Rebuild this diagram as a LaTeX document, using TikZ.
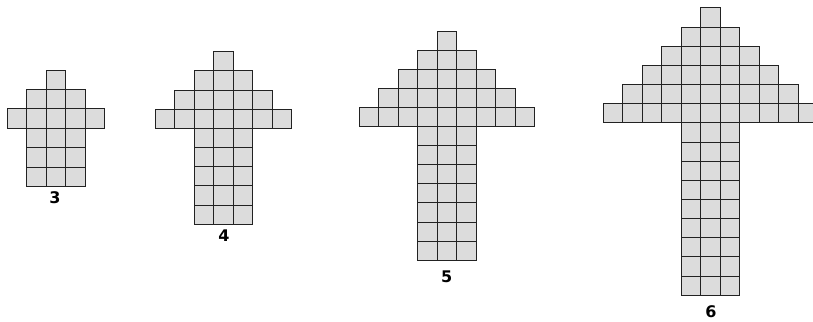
\documentclass[tikz,border=0pt]{standalone}
\usepackage{fontspec}
\setsansfont{DejaVu Sans}
\definecolor{cellfill}{HTML}{DCDCDC}
\definecolor{cellline}{HTML}{222222}
\tikzset{
  cell/.style={fill=cellfill,draw=cellline,line width=1pt},
  lab/.style={font=\sffamily\bfseries\fontsize{16}{17}\selectfont,text=black,inner sep=0pt}
}
\newcommand\cw{19.5}
% #1 centre x, #2 top y, #3 cell height, #4 n
\newcommand\arrowfig[4]{%
  \foreach \r in {1,...,#4}{%
    \pgfmathtruncatemacro\m{2*\r-1}%
    \foreach \c in {1,...,\m}{%
      \path[cell] ({#1+(\c-1-\m/2)*\cw},{#2+(\r-1)*#3}) rectangle ++(\cw,#3);
    }%
  }%
  \pgfmathtruncatemacro\stemn{2*#4-3}%
  \foreach \r in {1,...,\stemn}{%
    \foreach \c in {1,2,3}{%
      \path[cell] ({#1+(\c-2.5)*\cw},{#2+(#4+\r-1)*#3}) rectangle ++(\cw,#3);
    }%
  }%
}
\begin{document}
\begin{tikzpicture}[x=1pt,y=-1pt]
\useasboundingbox (0,0) rectangle (813,321);
\clip (0,0) rectangle (813,321);
\arrowfig{55.8}{70}{19.45}{3}
\arrowfig{223.7}{51.7}{19.18}{4}
\arrowfig{447}{31.7}{19.03}{5}
\arrowfig{710.7}{8}{19.15}{6}
\node[lab] (l3) at (55,198) {3};
\node[lab] (l4) at (224,235.5) {4};
\node[lab] (l5) at (446.7,277) {5};
\node[lab] (l6) at (711,312) {6};
\end{tikzpicture}
\end{document}
